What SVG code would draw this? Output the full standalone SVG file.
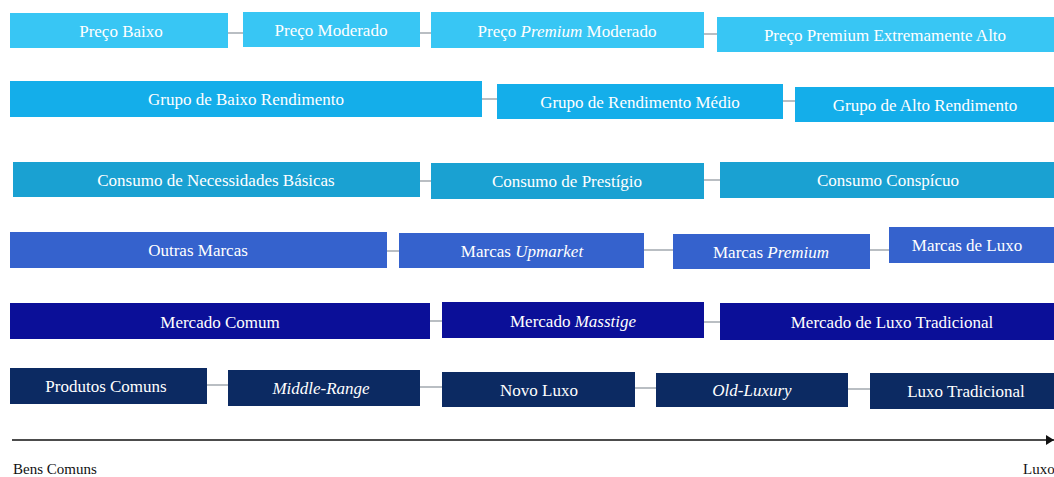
<svg xmlns="http://www.w3.org/2000/svg" width="1054" height="477" viewBox="0 0 1054 477" font-family="'Liberation Serif', Tinos, 'Times New Roman', Times, 'Nimbus Roman', 'DejaVu Serif', serif">
<style>
text{font-size:17px;fill:#fff;text-anchor:middle}
.r1{fill:#38c6f4}.r2{fill:#14aeea}.r3{fill:#1aa1d2}.r4{fill:#3562cd}.r5{fill:#0b0f98}.r6{fill:#0c2a62}
.c{stroke:#b9bec3;stroke-width:2;fill:none}
.ax{fill:#111;text-anchor:start;font-size:15px}
.it{font-style:italic}
</style>
<defs><marker id="arr" markerWidth="8" markerHeight="10" refX="8" refY="5" orient="auto" markerUnits="userSpaceOnUse"><path d="M0,0 L8,5 L0,10 Z" fill="#111"/></marker></defs>
<g id="connectors">
<line class="c" x1="228" y1="33" x2="243" y2="33"/>
<line class="c" x1="420" y1="33" x2="431" y2="33"/>
<line class="c" x1="704" y1="34" x2="717" y2="34"/>
<line class="c" x1="482" y1="99" x2="497" y2="99"/>
<line class="c" x1="783" y1="101" x2="795" y2="101"/>
<line class="c" x1="420" y1="181" x2="431" y2="181"/>
<line class="c" x1="704" y1="180" x2="720" y2="180"/>
<line class="c" x1="387" y1="251" x2="399" y2="251"/>
<line class="c" x1="644" y1="250" x2="673" y2="250"/>
<line class="c" x1="870" y1="250" x2="889" y2="250"/>
<line class="c" x1="430" y1="321" x2="442" y2="321"/>
<line class="c" x1="704" y1="322" x2="720" y2="322"/>
<line class="c" x1="207" y1="385" x2="228" y2="385"/>
<line class="c" x1="420" y1="387" x2="442" y2="387"/>
<line class="c" x1="635" y1="388" x2="656" y2="388"/>
<line class="c" x1="848" y1="389" x2="870" y2="389"/>
</g>
<g id="n-preco-baixo"><rect class="r1" x="10" y="13" width="218" height="35"/><text x="121" y="37">Preço Baixo</text></g>
<g id="n-preco-moderado"><rect class="r1" x="243" y="12" width="177" height="35"/><text x="331" y="36">Preço Moderado</text></g>
<g id="n-preco-premium-moderado"><rect class="r1" x="431" y="12" width="273" height="36"/><text x="567" y="37">Preço <tspan class="it">Premium</tspan> Moderado</text></g>
<g id="n-preco-premium-extremo"><rect class="r1" x="717" y="17" width="337" height="35"/><text x="885" y="41">Preço Premium Extremamente Alto</text></g>
<g id="n-grupo-baixo"><rect class="r2" x="10" y="81" width="472" height="36"/><text x="246" y="105">Grupo de Baixo Rendimento</text></g>
<g id="n-grupo-medio"><rect class="r2" x="497" y="84" width="286" height="35"/><text x="640" y="108">Grupo de Rendimento Médio</text></g>
<g id="n-grupo-alto"><rect class="r2" x="795" y="87" width="259" height="35"/><text x="925" y="111">Grupo de Alto Rendimento</text></g>
<g id="n-consumo-necessidades"><rect class="r3" x="13" y="162" width="407" height="35"/><text x="216" y="186">Consumo de Necessidades Básicas</text></g>
<g id="n-consumo-prestigio"><rect class="r3" x="431" y="163" width="273" height="36"/><text x="567" y="187">Consumo de Prestígio</text></g>
<g id="n-consumo-conspicuo"><rect class="r3" x="720" y="162" width="334" height="36"/><text x="888" y="186">Consumo Conspícuo</text></g>
<g id="n-outras-marcas"><rect class="r4" x="10" y="232" width="377" height="36"/><text x="198" y="256">Outras Marcas</text></g>
<g id="n-marcas-upmarket"><rect class="r4" x="399" y="233" width="245" height="35"/><text x="522" y="257">Marcas <tspan class="it">Upmarket</tspan></text></g>
<g id="n-marcas-premium"><rect class="r4" x="673" y="234" width="197" height="35"/><text x="771" y="258">Marcas <tspan class="it">Premium</tspan></text></g>
<g id="n-marcas-luxo"><rect class="r4" x="889" y="227" width="165" height="36"/><text x="967" y="251">Marcas de Luxo</text></g>
<g id="n-mercado-comum"><rect class="r5" x="10" y="303" width="420" height="36"/><text x="220" y="328">Mercado Comum</text></g>
<g id="n-mercado-masstige"><rect class="r5" x="442" y="302" width="262" height="36"/><text x="573" y="327">Mercado <tspan class="it">Masstige</tspan></text></g>
<g id="n-mercado-luxo-tradicional"><rect class="r5" x="720" y="303" width="334" height="37"/><text x="892" y="328">Mercado de Luxo Tradicional</text></g>
<g id="n-produtos-comuns"><rect class="r6" x="10" y="368" width="197" height="36"/><text x="106" y="392">Produtos Comuns</text></g>
<g id="n-middle-range"><rect class="r6" x="228" y="370" width="192" height="36"/><text class="it" x="321" y="394">Middle-Range</text></g>
<g id="n-novo-luxo"><rect class="r6" x="442" y="372" width="193" height="35"/><text x="539" y="396">Novo Luxo</text></g>
<g id="n-old-luxury"><rect class="r6" x="656" y="373" width="192" height="34"/><text class="it" x="752" y="396">Old-Luxury</text></g>
<g id="n-luxo-tradicional"><rect class="r6" x="870" y="373" width="184" height="36"/><text x="966" y="397">Luxo Tradicional</text></g>
<g id="axis">
<line x1="12" y1="440" x2="1054" y2="440" stroke="#111" stroke-width="1.3" marker-end="url(#arr)"/>
<text class="ax" x="13" y="474">Bens Comuns</text>
<text class="ax" x="1023" y="474">Luxo</text>
</g>
</svg>
